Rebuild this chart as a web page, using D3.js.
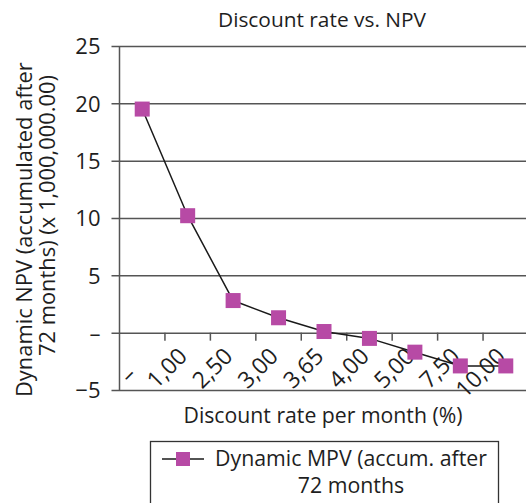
<!DOCTYPE html>
<html>
<head>
<meta charset="utf-8">
<script src="https://cdn.jsdelivr.net/npm/d3@7"></script>
<style>
  html, body { margin: 0; padding: 0; background: #fff; }
  svg { display: block; font-family: "Open Sans", sans-serif; }
  text { fill: #1e1e1e; }
</style>
</head>
<body>
<svg id="chart" width="526" height="503"></svg>
<script>
// Discount rate per month (%) categories, as printed on the axis
const categories = ["–", "1,00", "2,50", "3,00", "3,65", "4,00", "5,00", "7,50", "10,00"];
// Dynamic NPV accumulated after 72 months, in millions
const npv = [19.5, 10.2, 2.8, 1.3, 0.1, -0.5, -1.7, -2.9, -2.9];
// Value axis ticks and their printed labels (zero shown as a dash)
const yTicks = [-5, 0, 5, 10, 15, 20, 25];
const yTickLabels = ["−5", "–", "5", "10", "15", "20", "25"];

const svg = d3.select("#chart");
const plot = { left: 119.5, right: 528.5, top: 46, bottom: 390 };

const x = d3.scaleBand().domain(categories).range([plot.left, plot.right]).padding(0);
const y = d3.scaleLinear().domain([-5, 25]).range([plot.bottom, plot.top]);

const gridColor = "#555";

// size a label so it spans the given width; returns the chosen font size
function fitWidth(el, width) {
  const node = el.node();
  const fs = parseFloat(el.style("font-size"));
  const w = node.getComputedTextLength();
  const size = w > 0 ? fs * width / w : fs;
  el.style("font-size", size.toFixed(2) + "px");
  return size;
}

// horizontal gridlines with short ticks to the left of the axis
const yAxis = d3.axisLeft(y)
  .tickValues(yTicks)
  .tickFormat((d, i) => yTickLabels[i])
  .tickSize(-(plot.right - plot.left))
  .tickPadding(14);
const gy = svg.append("g").attr("transform", `translate(${plot.left},0)`).call(yAxis);
gy.select(".domain").remove();
gy.selectAll(".tick line")
  .attr("x1", -8)
  .attr("stroke", gridColor)
  .attr("stroke-width", 1.5);
gy.selectAll(".tick text")
  .attr("x", -19)
  .attr("dy", "0.36em")
  .style("font-family", "\"Open Sans\", sans-serif")
  .style("font-size", "22px")
  .style("fill", "#1e1e1e");

// vertical axis line
svg.append("line")
  .attr("x1", plot.left).attr("x2", plot.left)
  .attr("y1", plot.top).attr("y2", plot.bottom)
  .attr("stroke", gridColor).attr("stroke-width", 1.5);

// category axis sits on the zero line, ticks at band boundaries
const y0 = y(0);
const boundaries = categories.slice(1).map(c => x(c));
svg.append("g").selectAll("line")
  .data(boundaries)
  .join("line")
  .attr("x1", d => d).attr("x2", d => d)
  .attr("y1", y0).attr("y2", y0 + 8)
  .attr("stroke", gridColor).attr("stroke-width", 1.5);

svg.append("g").selectAll("text")
  .data(categories)
  .join("text")
  .attr("transform", d => `translate(${x(d) + x.bandwidth() / 2 + 1},${y0 + 25}) rotate(-45)`)
  .attr("text-anchor", "end")
  .attr("dx", d => d === "–" ? -17 : 0)
  .attr("dy", d => d === "–" ? 9 : 0)
  .style("font-size", "23px")
  .text(d => d);

// NPV line and square markers
const line = d3.line()
  .x((d, i) => x(categories[i]) + x.bandwidth() / 2)
  .y(d => y(d));
svg.append("path")
  .datum(npv)
  .attr("d", line)
  .attr("fill", "none")
  .attr("stroke", "#1a1a1a")
  .attr("stroke-width", 1.5);

const markerColor = "#b74aa5";
const ms = 15;
svg.append("g").selectAll("rect")
  .data(npv)
  .join("rect")
  .attr("x", (d, i) => x(categories[i]) + x.bandwidth() / 2 - ms / 2)
  .attr("y", d => y(d) - ms / 2)
  .attr("width", ms).attr("height", ms)
  .attr("fill", markerColor);

// titles
fitWidth(svg.append("text")
  .attr("x", 322).attr("y", 27)
  .attr("text-anchor", "middle")
  .style("font-size", "20px")
  .text("Discount rate vs. NPV"), 208);

fitWidth(svg.append("text")
  .attr("x", 323).attr("y", 423)
  .attr("text-anchor", "middle")
  .style("font-size", "20px")
  .text("Discount rate per month (%)"), 279);

const yTitle = svg.append("g").attr("transform", "rotate(-90)");
const yTitleSize = fitWidth(yTitle.append("text").attr("x", -397).attr("y", 32)
  .attr("text-anchor", "start")
  .style("font-size", "20px")
  .text("Dynamic NPV (accumulated after"), 335);
yTitle.append("text").attr("x", -356).attr("y", 55)
  .attr("text-anchor", "start")
  .style("font-size", yTitleSize.toFixed(2) + "px")
  .text("72 months) (x 1,000,000.00)");

// legend
const legend = svg.append("g");
legend.append("rect")
  .attr("x", 150.5).attr("y", 441.5)
  .attr("width", 348).attr("height", 80)
  .attr("fill", "#fff").attr("stroke", "#333").attr("stroke-width", 1.3);
legend.append("line")
  .attr("x1", 162).attr("x2", 204)
  .attr("y1", 459).attr("y2", 459)
  .attr("stroke", "#1a1a1a").attr("stroke-width", 1.5);
legend.append("rect")
  .attr("x", 176).attr("y", 452).attr("width", 14).attr("height", 14)
  .attr("fill", markerColor);
const legendSize = fitWidth(legend.append("text")
  .attr("x", 351).attr("y", 466)
  .attr("text-anchor", "middle")
  .style("font-size", "20px")
  .text("Dynamic MPV (accum. after"), 272);
legend.append("text")
  .attr("x", 351).attr("y", 493)
  .attr("text-anchor", "middle")
  .style("font-size", legendSize.toFixed(2) + "px")
  .text("72 months");
</script>
</body>
</html>
